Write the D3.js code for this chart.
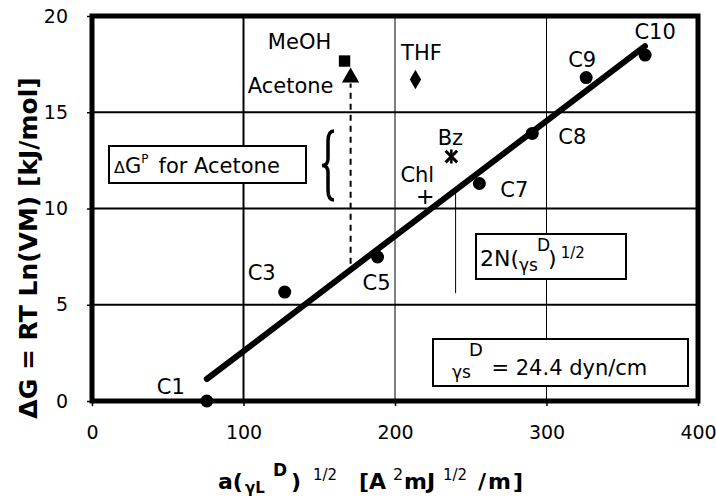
<!DOCTYPE html>
<html><head><meta charset="utf-8">
<script src="https://cdn.jsdelivr.net/npm/d3@7"></script>
<style>
body{margin:0;background:#fff;}
text{font-family:"DejaVu Sans",sans-serif;fill:#000;}
</style></head>
<body><svg id="c" width="716" height="500"></svg>
<script>
// ---- data ----
const alkaneLabels = ["C1","C3","C5","C7","C8","C9","C10"];
const alkaneX = [75.8,127.2,188.5,255.7,290.6,326.2,365.1];
const alkaneY = [0,5.66,7.48,11.3,13.9,16.8,17.97];
const probeLabels = ["MeOH","Acetone","THF","Bz","Chl"];
const probeX = [166.7,170.7,213.5,237.2,220.0];
const probeY = [17.66,16.8,16.7,12.7,10.6];
const fitSlope = 0.0598, fitIntercept = -3.39;
const fitRange = [75.8, 365.0];
const xTicks = [0,100,200,300,400];
const yTicks = [0,5,10,15,20];

// ---- layout ----
const svg = d3.select("#c");
const x = d3.scaleLinear().domain([0,400]).range([92,698]);
const y = d3.scaleLinear().domain([0,20]).range([401,16]);
const fs = 21;

// gridlines
[5,10,15].forEach(v=>svg.append("line").attr("x1",x(0)).attr("x2",x(400)).attr("y1",y(v)).attr("y2",y(v)).attr("stroke","#000").attr("stroke-width",2));
[100,200,300].forEach(v=>svg.append("line").attr("x1",x(v)).attr("x2",x(v)).attr("y1",y(0)).attr("y2",y(20)).attr("stroke","#000").attr("stroke-width",v===100?2:1));

// axes
const xa = svg.append("g").attr("transform",`translate(0,${y(0)})`)
  .call(d3.axisBottom(x).tickValues(xTicks).tickSize(5).tickPadding(20).tickFormat(d3.format("d")));
const ya = svg.append("g").attr("transform",`translate(${x(0)},0)`)
  .call(d3.axisLeft(y).tickValues(yTicks).tickSize(5).tickPadding(19).tickFormat(d3.format("d")));
[xa,ya].forEach(g=>{g.select(".domain").remove();g.selectAll("line").attr("stroke-width",1.5);
  g.selectAll("text").style("font-size","19px").style("font-family","'DejaVu Sans',sans-serif");});

// frame
svg.append("rect").attr("x",x(0)).attr("y",y(20)).attr("width",x(400)-x(0)).attr("height",y(0)-y(20))
  .attr("fill","none").attr("stroke","#000").attr("stroke-width",5);

// thin vertical indicator line (slope)
svg.append("line").attr("x1",x(240)).attr("x2",x(240)).attr("y1",y(fitSlope*240+fitIntercept)).attr("y2",y(5.6))
  .attr("stroke","#000").attr("stroke-width",1);

// dashed arrow line from fit to acetone
svg.append("line").attr("x1",x(probeX[1])).attr("x2",x(probeX[1]))
  .attr("y1",y(fitSlope*probeX[1]+fitIntercept)-6).attr("y2",y(probeY[1])+6)
  .attr("stroke","#000").attr("stroke-width",2).attr("stroke-dasharray","6,5");

// brace
const bx = 328, bt = 131, bb = 200, bm = (bt+bb)/2;
svg.append("path").attr("d",`M${bx+6},${bt} Q${bx},${bt} ${bx},${bt+10} L${bx},${bm-7} Q${bx},${bm} ${bx-6},${bm} Q${bx},${bm} ${bx},${bm+7} L${bx},${bb-10} Q${bx},${bb} ${bx+6},${bb}`)
  .attr("fill","none").attr("stroke","#000").attr("stroke-width",3.5);

// fit line
svg.append("line").attr("x1",x(fitRange[0])).attr("y1",y(fitSlope*fitRange[0]+fitIntercept))
  .attr("x2",x(fitRange[1])).attr("y2",y(fitSlope*fitRange[1]+fitIntercept))
  .attr("stroke","#000").attr("stroke-width",6).attr("stroke-linecap","round");

// alkane points
alkaneX.forEach((v,i)=>svg.append("circle").attr("cx",x(v)).attr("cy",y(alkaneY[i])).attr("r",6.5).attr("fill","#000"));

// probe markers
const sym = [d3.symbolSquare,d3.symbolTriangle,d3.symbolDiamond];
const sizes = [130,130,110];
sym.forEach((s,i)=>svg.append("path").attr("d",d3.symbol(s,sizes[i])())
  .attr("transform",`translate(${x(probeX[i])},${y(probeY[i])})`).attr("fill","#000"));
// Bz asterisk
svg.append("path").attr("d",d3.symbol(d3.symbolTimes,90)()).attr("transform",`translate(${x(probeX[3])},${y(probeY[3])})`)
  .attr("stroke","#000").attr("stroke-width",3).attr("fill","none");
svg.append("line").attr("x1",x(probeX[3])).attr("x2",x(probeX[3])).attr("y1",y(probeY[3])-7).attr("y2",y(probeY[3])+7).attr("stroke","#000").attr("stroke-width",2.5);
// Chl plus
const cxp = x(probeX[4]), cyp = y(probeY[4]);
svg.append("path").attr("d",`M${cxp-7},${cyp}H${cxp+7}M${cxp},${cyp-7}V${cyp+7}`)
  .attr("stroke","#000").attr("stroke-width",2).attr("fill","none");

// labels
const alkaneOff = [[-36,-14],[-23,-19],[-1,26],[35,7],[40,4],[-4,-18],[10,-23]];
const probeOff = [[-45,-19],[-60,8],[6,-27],[-1,-19],[-8,-22]];
function lab(t,px,py){svg.append("text").attr("x",px).attr("y",py).attr("text-anchor","middle")
  .attr("dominant-baseline","central").style("font-size",fs+"px").text(t);}
alkaneLabels.forEach((t,i)=>lab(t,x(alkaneX[i])+alkaneOff[i][0],y(alkaneY[i])+alkaneOff[i][1]));
probeLabels.forEach((t,i)=>lab(t,x(probeX[i])+probeOff[i][0],y(probeY[i])+probeOff[i][1]));

// boxes
function box(x0,y0,x1,y1){svg.append("rect").attr("x",x0).attr("y",y0).attr("width",x1-x0).attr("height",y1-y0)
  .attr("fill","#fff").attr("stroke","#000").attr("stroke-width",2);}
box(109,146,306,183);
let t = svg.append("text").attr("x",114).attr("y",173).style("font-size","21px");
t.append("tspan").style("font-size","16px").text("Δ");
t.append("tspan").text("G");
t.append("tspan").attr("dy",-10).style("font-size","12px").text("P");
t.append("tspan").attr("dy",10).attr("dx",10).text("for Acetone");

box(476,234,626,279);
t = svg.append("text").attr("x",480).attr("y",266).style("font-size","22px");
t.append("tspan").text("2N(");
t.append("tspan").attr("dy",5).style("font-size","17px").text("γs");
t.append("tspan").attr("dy",-20).attr("dx",-1).style("font-size","17px").text("D");
t.append("tspan").attr("dy",15).attr("dx",-2).text(")");
t.append("tspan").attr("dy",-8).attr("dx",4).style("font-size","15px").text("1/2");

box(433,339,688,386);
t = svg.append("text").attr("x",452).attr("y",375).style("font-size","21px");
t.append("tspan").attr("dy",3).style("font-size","17px").text("γs");
t.append("tspan").attr("dy",-22).attr("dx",-2).style("font-size","18px").text("D");
t.append("tspan").attr("dy",19).attr("dx",2).text(" = 24.4 dyn/cm");

// x axis title (pieces placed along one baseline)
const bl = 489;
t = svg.append("text").attr("y",bl).style("font-size","22px").style("font-weight","bold");
t.append("tspan").attr("x",218).attr("y",bl).text("a(");
t.append("tspan").attr("x",245).attr("y",bl+4).style("font-size","15px").text("γL");
t.append("tspan").attr("x",273).attr("y",bl-13).style("font-size","17px").text("D");
t.append("tspan").attr("x",291).attr("y",bl).text(")");
t.append("tspan").attr("x",313).attr("y",bl-9).style("font-size","15px").style("font-weight","normal").text("1/2");
t.append("tspan").attr("x",359).attr("y",bl).text("[A");
t.append("tspan").attr("x",393).attr("y",bl-9).style("font-size","16px").style("font-weight","normal").text("2");
t.append("tspan").attr("x",404).attr("y",bl).text("mJ");
t.append("tspan").attr("x",443).attr("y",bl-9).style("font-size","15px").style("font-weight","normal").text("1/2");
t.append("tspan").attr("x",478).attr("y",bl).style("letter-spacing","2px").text("/m]");

svg.append("text").attr("transform","translate(37,248) rotate(-90)").attr("text-anchor","middle")
  .style("font-size","25px").style("font-weight","bold").text("ΔG = RT Ln(VM) [kJ/mol]");
</script></body></html>
